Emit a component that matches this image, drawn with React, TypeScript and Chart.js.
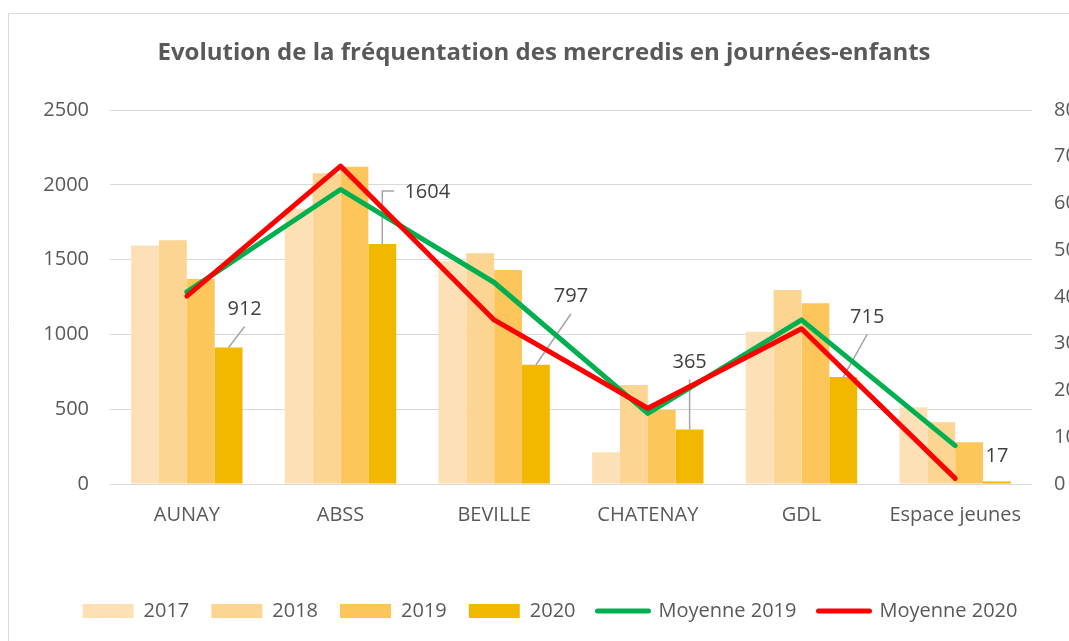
import React, { useEffect, useRef } from "react";
import { Chart, registerables } from "chart.js";

Chart.register(...registerables);

// ---------- data ----------
const CATEGORIES = ["AUNAY", "ABSS", "BEVILLE", "CHATENAY", "GDL", "Espace jeunes"];
const V2017 = [1595, 1840, 1490, 212, 1018, 513];
const V2018 = [1630, 2077, 1542, 662, 1297, 412];
const V2019 = [1370, 2121, 1430, 495, 1208, 279];
const V2020 = [912, 1604, 797, 365, 715, 17];
const MOYENNE_2019 = [41.1, 63.0, 43.1, 15.1, 35.1, 8.2];
const MOYENNE_2020 = [40.2, 68.0, 35.1, 16.2, 33.2, 1.2];
const LEFT_MAX = 2500;
const LEFT_STEP = 500;
const RIGHT_MAX = 80;
const RIGHT_STEP = 10;
const TITLE = "Evolution de la fréquentation des mercredis en journées-enfants";

// ---------- style ----------
const FONT = "'Open Sans', 'DejaVu Sans', sans-serif";
const TEXT = "#595959";
const COLORS = {
  c2017: "#FDE0B6",
  c2018: "#FDD593",
  c2019: "#FDC65A",
  c2020: "#F2B800",
  m2019: "#00B050",
  m2020: "#FF0000",
};
// label callout offsets (style only): [dx, dy, leader kind]
const LABEL_CALLOUTS: Array<[number, number, string]> = [
  [16, -38, "diag"],
  [45, -52, "elbow"],
  [35, -68, "diag"],
  [0, -67, "vert"],
  [24, -60, "diag"],
  [0, -25, "none"],
];
const TITLE_CENTER_X = 544;
const TITLE_CENTER_Y = 53;

const frameAndLabels = {
  id: "frameAndLabels",
  beforeDraw(chart: any) {
    const { ctx, width, height } = chart;
    ctx.save();
    ctx.fillStyle = "#ffffff";
    ctx.fillRect(0, 0, width, height);
    ctx.strokeStyle = "#D9D9D9";
    ctx.lineWidth = 1;
    ctx.beginPath();
    ctx.moveTo(8.5, height);
    ctx.lineTo(8.5, 13.5);
    ctx.lineTo(width, 13.5);
    ctx.stroke();
    ctx.restore();
  },
  afterDraw(chart: any) {
    const { ctx } = chart;
    ctx.save();
    ctx.font = `bold 24px ${FONT}`;
    ctx.fillStyle = TEXT;
    ctx.textAlign = "center";
    ctx.textBaseline = "middle";
    ctx.fillText(TITLE, TITLE_CENTER_X, TITLE_CENTER_Y);
    ctx.restore();
  },
  afterDatasetDraw(chart: any, args: any) {
    if (args.index !== 3) return;
    const { ctx } = chart;
    const meta = chart.getDatasetMeta(3);
    ctx.save();
    ctx.font = `20px ${FONT}`;
    ctx.textAlign = "center";
    ctx.textBaseline = "middle";
    meta.data.forEach((bar: any, i: number) => {
      const [dx, dy, kind] = LABEL_CALLOUTS[i];
      const x0 = bar.x;
      const y0 = bar.y;
      const lx = x0 + dx;
      const ly = y0 + dy;
      ctx.strokeStyle = "#A6A6A6";
      ctx.lineWidth = 1.5;
      ctx.beginPath();
      if (kind === "diag" || kind === "vert") {
        ctx.moveTo(x0, y0);
        ctx.lineTo(lx, ly + 17);
      } else if (kind === "elbow") {
        ctx.moveTo(x0, y0);
        ctx.lineTo(x0, ly - 1);
        ctx.lineTo(x0 + 12, ly - 1);
      }
      if (kind !== "none") ctx.stroke();
      ctx.fillStyle = "#404040";
      ctx.fillText(String(V2020[i]), lx, ly);
    });
    ctx.restore();
  },
};

export default function App() {
  const ref = useRef<HTMLCanvasElement | null>(null);

  useEffect(() => {
    if (!ref.current) return;
    const tickFont = { family: FONT, size: 20 };
    const chart = new Chart(ref.current, {
      type: "bar",
      data: {
        labels: CATEGORIES,
        datasets: [
          { type: "bar", label: "2017", data: V2017, backgroundColor: COLORS.c2017, yAxisID: "y", order: 2 },
          { type: "bar", label: "2018", data: V2018, backgroundColor: COLORS.c2018, yAxisID: "y", order: 2 },
          { type: "bar", label: "2019", data: V2019, backgroundColor: COLORS.c2019, yAxisID: "y", order: 2 },
          { type: "bar", label: "2020", data: V2020, backgroundColor: COLORS.c2020, yAxisID: "y", order: 2 },
          {
            type: "line", label: "Moyenne 2019", data: MOYENNE_2019, borderColor: COLORS.m2019,
            backgroundColor: COLORS.m2019, borderWidth: 5, pointRadius: 0, yAxisID: "y1", order: 1,
            borderCapStyle: "round", borderJoinStyle: "round", tension: 0,
          },
          {
            type: "line", label: "Moyenne 2020", data: MOYENNE_2020, borderColor: COLORS.m2020,
            backgroundColor: COLORS.m2020, borderWidth: 5, pointRadius: 0, yAxisID: "y1", order: 0,
            borderCapStyle: "round", borderJoinStyle: "round", tension: 0,
          },
        ] as any,
      },
      options: {
        responsive: false,
        animation: false,
        datasets: { bar: { categoryPercentage: 0.725, barPercentage: 1.0 } },
        layout: { padding: { top: 0, left: 0, right: 0, bottom: 10 } },
        plugins: {
          title: {
            display: true,
            text: TITLE,
            color: "rgba(0,0,0,0)",
            font: { family: FONT, size: 20, weight: "bold" },
            padding: { top: 41, bottom: 45 },
          },
          legend: {
            position: "bottom",
            labels: {
              usePointStyle: true,
              pointStyleWidth: 51,
              boxHeight: 14,
              padding: 22,
              color: TEXT,
              font: { family: FONT, size: 20 },
              generateLabels: (c: any) => {
                return c.data.datasets.map((ds: any, i: number) => {
                  const isLine = ds.type === "line";
                  return {
                    text: ds.label,
                    datasetIndex: i,
                    fillStyle: isLine ? ds.borderColor : ds.backgroundColor,
                    strokeStyle: isLine ? ds.borderColor : ds.backgroundColor,
                    lineWidth: isLine ? 5 : 0,
                    lineCap: "round",
                    pointStyle: isLine ? "line" : "rect",
                    fontColor: TEXT,
                    hidden: false,
                  };
                });
              },
            },
          },
          tooltip: { enabled: false },
        },
        scales: {
          x: {
            grid: { display: false, drawTicks: false },
            border: { display: false },
            ticks: { color: TEXT, font: tickFont, padding: 19 },
            afterFit: (s: any) => { s.height = 95; },
          },
          y: {
            position: "left",
            min: 0,
            max: LEFT_MAX,
            ticks: {
              stepSize: LEFT_STEP,
              color: TEXT,
              font: tickFont,
              padding: 21,
              callback: (v: any) => String(v),
            },
            grid: { color: "#D9D9D9", lineWidth: 1, drawTicks: false },
            border: { display: false },
            afterFit: (s: any) => { s.width = 110; },
          },
          y1: {
            position: "right",
            min: 0,
            max: RIGHT_MAX,
            ticks: {
              stepSize: RIGHT_STEP,
              color: TEXT,
              font: tickFont,
              padding: 22,
              callback: (v: any) => String(v),
            },
            grid: { display: false, drawTicks: false },
            border: { display: false },
            afterFit: (s: any) => { s.width = 68; },
          },
        },
      } as any,
      plugins: [frameAndLabels],
    });
    return () => chart.destroy();
  }, []);

  return (
    <div
      style={{
        position: "fixed",
        left: 0,
        top: 0,
        width: 1069,
        height: 641,
        overflow: "hidden",
        background: "#ffffff",
      }}
    >
      <canvas ref={ref} width={1100} height={641} style={{ display: "block" }} />
    </div>
  );
}
